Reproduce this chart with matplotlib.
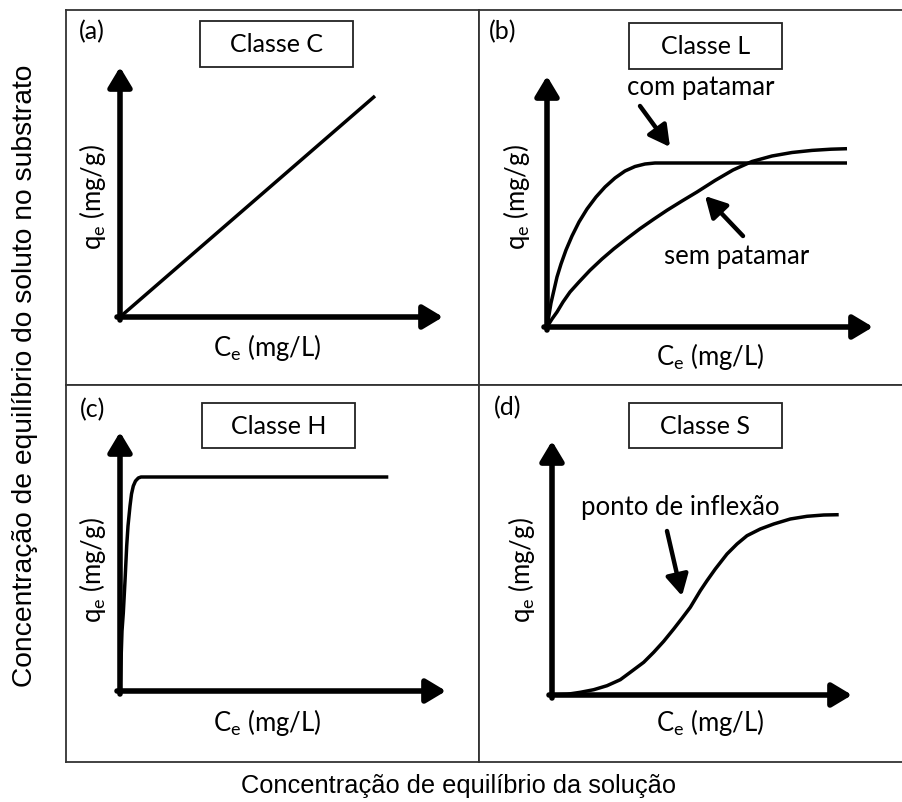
import matplotlib
matplotlib.use("Agg")
import matplotlib.pyplot as plt
from matplotlib.patches import Rectangle

W, H = 903, 803
PANEL_FONT = "Lato"
OUTER_FONT = "Liberation Sans"

# curve values (px above/right of each sketch's origin)
class_c_x = [0, 255]
class_c_y = [0, 221]

com_patamar_x = [0, 2, 4, 7, 10, 14, 19, 25, 32, 40, 49, 58, 68, 78, 88, 98, 108, 300]
com_patamar_y = [0, 12, 24, 37, 50, 63, 77, 91, 105, 118, 130, 140, 149, 156, 160.5, 163, 164, 164]
sem_patamar_x = [0, 5, 10, 16, 23, 32, 43, 55, 67, 80, 93, 107, 120, 135, 150, 168, 186,
                 205, 225, 245, 265, 284, 300]
sem_patamar_y = [0, 8, 15, 25, 35, 45, 56.7, 68, 78.3, 88.5, 98.3, 108, 116.7, 126, 135,
                 146.5, 157, 165.5, 171, 174.5, 176.6, 177.8, 178.3]

class_h_x = [0, 1, 2, 3.3, 5, 6.7, 8, 10, 11.5, 13.3, 15.5, 18.3, 21, 23.3, 268.3]
class_h_y = [0, 30, 60, 78, 110, 145, 165, 185, 197, 205, 210, 213, 214, 214, 214]

class_s_x = [0, 15, 28.3, 41.7, 55, 68.3, 78.3, 91.7, 101.7, 111.7, 121.7, 130, 138.3, 143.3,
             148.3, 155, 163.3, 175, 185, 195, 208.3, 221.7, 238.3, 255, 271.7, 286.7]
class_s_y = [0, 0.7, 2.7, 5.3, 9.3, 15.3, 22.7, 32.7, 42.7, 53.7, 66, 76.7, 87.7, 96,
             104.3, 114.3, 126, 141, 151, 159.3, 166, 171, 176, 178.7, 180, 180.3]

tags = ["(a)", "(b)", "(c)", "(d)"]
titles = ["Classe C", "Classe L", "Classe H", "Classe S"]
xlabel = "C$_\\mathregular{e}$ (mg/L)"
ylabel = "q$_\\mathregular{e}$ (mg/g)"

fig = plt.figure(figsize=(W / 100, H / 100), dpi=100)


def add_panel(box, origin):
    # box = (left, top, right, bottom) in px, origin = axis corner in px
    l, t, r, b = box
    ox, oy = origin
    ax = fig.add_axes([l / W, 1 - b / H, (r - l) / W, (b - t) / H])
    ax.set_xlim(l - ox, r - ox)
    ax.set_ylim(oy - b, oy - t)
    ax.set_xticks([])
    ax.set_yticks([])
    for s in ax.spines.values():
        s.set_linewidth(1.3)
        s.set_color("#333333")
    return ax


def axis_arrows(ax, xtip, ytip):
    style = "-|>,head_length=0.6,head_width=0.36"
    kw = dict(arrowstyle=style, lw=4, color="k", shrinkA=0, shrinkB=0,
              mutation_scale=20)
    ax.annotate("", xy=(xtip, 0), xytext=(-3, 0), arrowprops=kw)
    ax.annotate("", xy=(0, ytip), xytext=(0, -3), arrowprops=kw)


def title_box(ax, cx, cy, text, w=153, h=46):
    ax.add_patch(Rectangle((cx - w / 2, cy - h / 2), w, h, fill=False,
                           lw=1.3, edgecolor="#222222"))
    ax.text(cx, cy, text, ha="center", va="center", fontsize=18,
            family=PANEL_FONT)


def labels(ax, tag, tagpos, xpos, ypos):
    ax.text(*tagpos, tag, ha="center", va="center", fontsize=18, family=PANEL_FONT)
    ax.text(*xpos, xlabel, ha="center", va="center", fontsize=18.5, family=PANEL_FONT)
    ax.text(*ypos, ylabel, ha="center", va="center", fontsize=18.5,
            family=PANEL_FONT, rotation=90)


def pointer(ax, start, end):
    ax.annotate("", xy=end, xytext=start,
                arrowprops=dict(arrowstyle="-|>,head_length=0.7,head_width=0.38",
                                lw=3.2, color="k", shrinkA=0, shrinkB=0,
                                mutation_scale=18))


curve_kw = dict(color="k", lw=2.5, solid_capstyle="butt", solid_joinstyle="round")

# (a) Classe C
ax = add_panel((66, 11, 479, 386), (120, 318))
axis_arrows(ax, 323, 250)
ax.plot(class_c_x, class_c_y, **curve_kw)
title_box(ax, 157, 273, titles[0])
labels(ax, tags[0], (-28, 286), (147, -30), (-28, 121))

# (b) Classe L
ax = add_panel((479, 11, 905, 386), (547, 328))
axis_arrows(ax, 326, 251)
ax.plot(com_patamar_x, com_patamar_y, **curve_kw)
ax.plot(sem_patamar_x, sem_patamar_y, **curve_kw)
title_box(ax, 158.5, 281.5, titles[1])
labels(ax, tags[1], (-44, 296), (163, -29), (-30, 131))
ax.text(154, 241, "com patamar", ha="center", va="center", fontsize=18.5, family=PANEL_FONT)
ax.text(190, 71, "sem patamar", ha="center", va="center", fontsize=18.5, family=PANEL_FONT)
pointer(ax, (93, 221), (123, 180))
pointer(ax, (196, 91), (158, 131))

# (c) Classe H
ax = add_panel((66, 386, 479, 763), (120, 692))
axis_arrows(ax, 326, 259)
ax.plot(class_h_x, class_h_y, **curve_kw)
title_box(ax, 158.5, 265.5, titles[2], h=45)
labels(ax, tags[2], (-27, 282), (147, -31), (-28, 122))

# (d) Classe S
ax = add_panel((479, 386, 905, 763), (552, 696))
axis_arrows(ax, 300, 254)
ax.plot(class_s_x, class_s_y, **curve_kw)
title_box(ax, 153.5, 269.5, titles[3], h=45)
labels(ax, tags[3], (-44, 288), (158, -27), (-30, 126))
ax.text(128, 189, "ponto de inflexão", ha="center", va="center", fontsize=18.5, family=PANEL_FONT)
pointer(ax, (115, 164), (130, 99))

fig.text(459 / W, 1 - 786 / H, "Concentração de equilíbrio da solução",
         ha="center", va="center", fontsize=18.3, family=OUTER_FONT)
fig.text(25 / W, 1 - 376 / H, "Concentração de equilíbrio do soluto no substrato",
         ha="center", va="center", fontsize=20.3, family=OUTER_FONT, rotation=90)

fig.savefig("out.png", dpi=100)
